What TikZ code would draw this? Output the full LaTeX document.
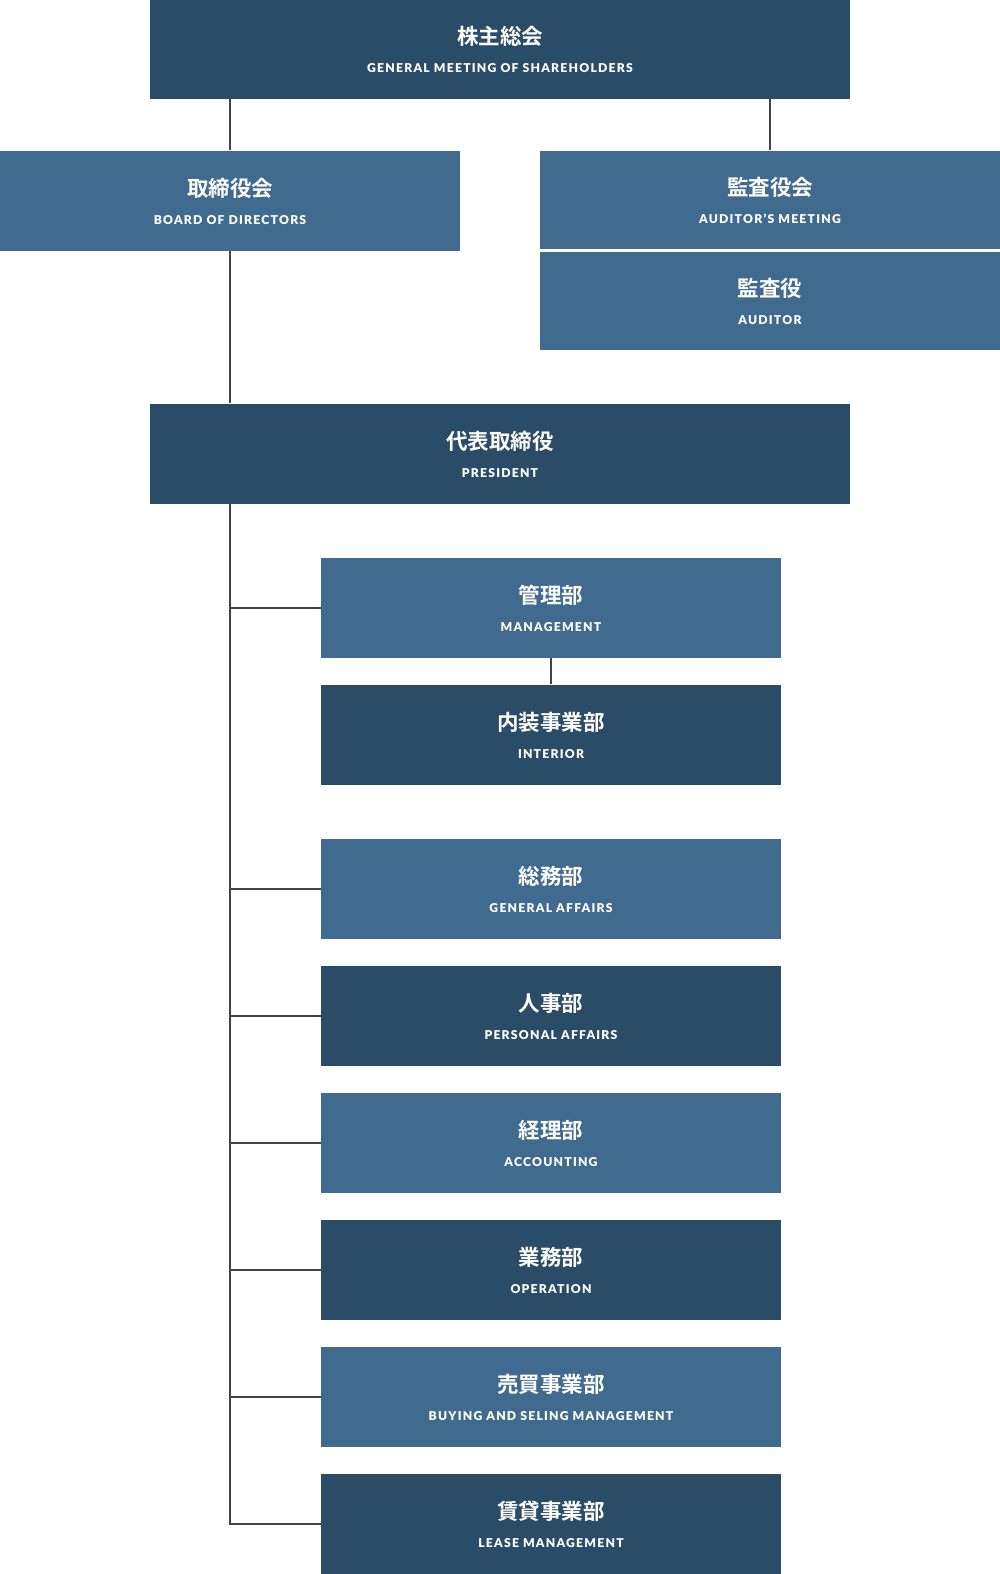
\documentclass[tikz,border=0pt]{standalone}
\usepackage{fontspec}
\newfontfamily\jpfont{Noto Sans CJK JP}[BoldFont={* Bold}]
\newfontfamily\enfont{Lato Black}[LetterSpace=10]
\usetikzlibrary{positioning}

\definecolor{navy}{HTML}{2B4C67}
\definecolor{steel}{HTML}{416B8E}
\definecolor{wire}{HTML}{444444}

% one box of the chart: name, style, centre, japanese, english
\newcommand\orgunit[5]{%
  \node[#2] (#1) at (#3) {};
  \node[jp] (#1-jp) at ([yshift=12.5pt]#1.center) {#4};
  \node[en] (#1-en) at ([yshift=-19.5pt]#1.center) {#5};
}

\begin{document}
\begin{tikzpicture}[x=1pt,y=-1pt,
  unit/.style={rectangle,inner sep=0pt,minimum height=100pt},
  wide/.style={unit,fill=navy,minimum width=700pt},
  side/.style={unit,fill=steel,minimum width=460pt},
  deptdark/.style={unit,fill=navy,minimum width=460pt},
  deptlight/.style={unit,fill=steel,minimum width=460pt},
  jp/.style={inner sep=0pt,text=white,font=\jpfont\bfseries\fontsize{21.5}{24}\selectfont},
  en/.style={inner sep=0pt,text=white,font=\enfont\fontsize{12.2}{14}\selectfont},
  conn/.style={draw=wire,line width=2pt}]
\useasboundingbox (0,0) rectangle (1000,1574);

\orgunit{gm}{wide}{500,49}{株主総会}{GENERAL MEETING OF SHAREHOLDERS}
\orgunit{board}{side}{230,200.5}{取締役会}{BOARD OF DIRECTORS}
\orgunit{audm}{side,minimum height=98pt}{770,199.5}{監査役会}{AUDITOR’S MEETING}
\orgunit{aud}{side,minimum height=98pt}{770,301}{監査役}{AUDITOR}
\orgunit{pres}{wide}{500,453.5}{代表取締役}{PRESIDENT}

\orgunit{mgmt}{deptlight}{551,607.5}{管理部}{MANAGEMENT}
\orgunit{inter}{deptdark}{551,734.5}{内装事業部}{INTERIOR}
\orgunit{ga}{deptlight}{551,888.5}{総務部}{GENERAL AFFAIRS}
\orgunit{pa}{deptdark}{551,1015.5}{人事部}{PERSONAL AFFAIRS}
\orgunit{acc}{deptlight}{551,1142.5}{経理部}{ACCOUNTING}
\orgunit{op}{deptdark}{551,1269.5}{業務部}{OPERATION}
\orgunit{buy}{deptlight}{551,1396.5}{売買事業部}{BUYING AND SELING MANAGEMENT}
\orgunit{lease}{deptdark}{551,1523.5}{賃貸事業部}{LEASE MANAGEMENT}

% lines
\draw[conn] (gm.south -| board) -- (board.north);
\draw[conn] (gm.south -| audm) -- (audm.north);
\draw[conn] (board.south) -- (board |- pres.north);
\draw[conn] (pres.south -| board) |- (lease.west);
\draw[conn] (mgmt.south) -- (inter.north);
\draw[conn] (mgmt.west) -- (mgmt.west -| board);
\draw[conn] (ga.west) -- (ga.west -| board);
\draw[conn] (pa.west) -- (pa.west -| board);
\draw[conn] (acc.west) -- (acc.west -| board);
\draw[conn] (op.west) -- (op.west -| board);
\draw[conn] (buy.west) -- (buy.west -| board);
\end{tikzpicture}
\end{document}
